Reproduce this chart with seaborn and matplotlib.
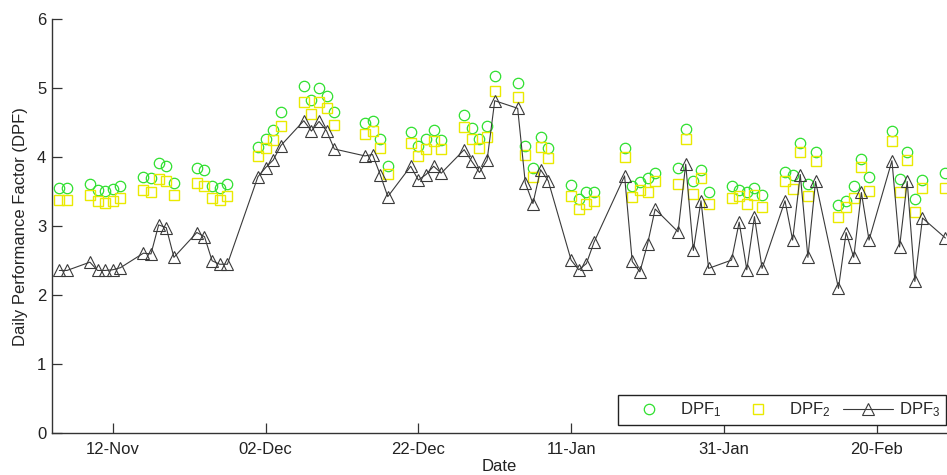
import pandas as pd
import matplotlib
matplotlib.use("Agg")
import matplotlib.pyplot as plt
import matplotlib.dates as mdates
import seaborn as sns

# trading days, Nov 2009 - Mar 2010
dates = [
    "2009-11-05", "2009-11-06", "2009-11-09", "2009-11-10", "2009-11-11", "2009-11-12",
    "2009-11-13", "2009-11-16", "2009-11-17", "2009-11-18", "2009-11-19", "2009-11-20",
    "2009-11-23", "2009-11-24", "2009-11-25", "2009-11-26", "2009-11-27",
    "2009-12-01", "2009-12-02", "2009-12-03", "2009-12-04", "2009-12-07", "2009-12-08",
    "2009-12-09", "2009-12-10", "2009-12-11", "2009-12-15", "2009-12-16", "2009-12-17",
    "2009-12-18", "2009-12-21", "2009-12-22", "2009-12-23", "2009-12-24", "2009-12-25",
    "2009-12-28", "2009-12-29", "2009-12-30", "2009-12-31",
    "2010-01-01", "2010-01-04", "2010-01-05", "2010-01-06", "2010-01-07", "2010-01-08",
    "2010-01-11", "2010-01-12", "2010-01-13", "2010-01-14", "2010-01-18", "2010-01-19",
    "2010-01-20", "2010-01-21", "2010-01-22", "2010-01-25", "2010-01-26", "2010-01-27",
    "2010-01-28", "2010-01-29",
    "2010-02-01", "2010-02-02", "2010-02-03", "2010-02-04", "2010-02-05", "2010-02-08",
    "2010-02-09", "2010-02-10", "2010-02-11", "2010-02-12", "2010-02-15", "2010-02-16",
    "2010-02-17", "2010-02-18", "2010-02-19", "2010-02-22", "2010-02-23", "2010-02-24",
    "2010-02-25", "2010-02-26",
    "2010-03-01",
]

dpf1 = [
    3.56, 3.56, 3.62, 3.53, 3.51, 3.54, 3.58, 3.72, 3.70, 3.91, 3.88, 3.63, 3.84, 3.81, 3.59, 3.55, 3.61,
    4.15, 4.27, 4.40, 4.65, 5.03, 4.83, 5.00, 4.89, 4.65, 4.49, 4.53, 4.27, 3.87, 4.37, 4.16, 4.26, 4.40,
    4.25, 4.61, 4.42, 4.27, 4.46,
    5.18, 5.07, 4.17, 3.84, 4.29, 4.13, 3.60, 3.39, 3.50, 3.49, 4.14, 3.59, 3.64, 3.70, 3.77, 3.84, 4.41,
    3.66, 3.81, 3.50,
    3.58, 3.53, 3.49, 3.56, 3.45, 3.79, 3.74, 4.21, 3.62, 4.08, 3.31, 3.36, 3.58, 3.98, 3.72, 4.38, 3.68,
    4.08, 3.40, 3.67,
    3.77,
]

dpf2 = [
    3.38, 3.38, 3.45, 3.37, 3.34, 3.37, 3.41, 3.53, 3.50, 3.69, 3.66, 3.45, 3.63, 3.58, 3.41, 3.38, 3.44,
    4.02, 4.14, 4.25, 4.46, 4.80, 4.63, 4.80, 4.71, 4.47, 4.34, 4.38, 4.14, 3.76, 4.21, 4.02, 4.12, 4.24,
    4.12, 4.44, 4.27, 4.13, 4.30,
    4.96, 4.87, 4.04, 3.71, 4.15, 3.99, 3.44, 3.25, 3.33, 3.37, 4.01, 3.42, 3.53, 3.50, 3.66, 3.62, 4.27,
    3.47, 3.70, 3.33,
    3.41, 3.44, 3.32, 3.45, 3.28, 3.66, 3.54, 4.07, 3.44, 3.95, 3.14, 3.28, 3.41, 3.86, 3.51, 4.24, 3.49,
    3.96, 3.21, 3.56,
    3.56,
]

dpf3 = [
    2.36, 2.36, 2.48, 2.36, 2.36, 2.37, 2.40, 2.61, 2.60, 3.02, 2.98, 2.55, 2.91, 2.85, 2.50, 2.45, 2.45,
    3.72, 3.85, 3.96, 4.17, 4.53, 4.38, 4.52, 4.38, 4.12, 4.02, 4.04, 3.75, 3.43, 3.87, 3.67, 3.75, 3.87,
    3.77, 4.11, 3.94, 3.78, 3.96,
    4.82, 4.71, 3.63, 3.33, 3.82, 3.66, 2.51, 2.37, 2.46, 2.77, 3.73, 2.49, 2.34, 2.74, 3.25, 2.92, 3.90,
    2.65, 3.37, 2.39,
    2.51, 3.06, 2.37, 3.14, 2.39, 3.37, 2.80, 3.75, 2.55, 3.65, 2.10, 2.91, 2.55, 3.49, 2.80, 3.95, 2.70,
    3.65, 2.20, 3.12,
    2.83,
]

tick_dates = ["2009-11-12", "2009-12-02", "2009-12-22", "2010-01-11", "2010-01-31", "2010-02-20"]

df = pd.DataFrame({"date": pd.to_datetime(dates), "dpf1": dpf1, "dpf2": dpf2, "dpf3": dpf3})

sns.set_style("white")
plt.rcParams["font.family"] = ["Liberation Sans", "DejaVu Sans"]
plt.rcParams["mathtext.fontset"] = "custom"
plt.rcParams["mathtext.rm"] = "Liberation Sans"
plt.rcParams["mathtext.it"] = "Liberation Sans"

fig = plt.figure(figsize=(9.47, 4.75), dpi=100)
ax = fig.add_axes([0.0546, 0.0878, 0.9454, 0.8716])

sns.lineplot(data=df, x="date", y="dpf1", ax=ax, errorbar=None, ls="none",
             marker="o", ms=7.5, mfc="none", mec="#2fe02f", mew=0.9, label="DPF$_1$")
sns.lineplot(data=df, x="date", y="dpf2", ax=ax, errorbar=None, ls="none",
             marker="s", ms=7, mfc="none", mec="#eaea00", mew=1.0, label="DPF$_2$")
sns.lineplot(data=df, x="date", y="dpf3", ax=ax, errorbar=None, color="#3a3a3a", lw=0.8,
             marker="^", ms=8, mfc="none", mec="#3a3a3a", mew=0.8, label="DPF$_3$")

ax.set_xlim(pd.Timestamp("2009-11-04"), pd.Timestamp("2010-03-01 05:00"))
ax.set_ylim(0, 6)
ax.set_xticks(pd.to_datetime(tick_dates))
ax.xaxis.set_major_formatter(mdates.DateFormatter("%d-%b"))
ax.set_yticks(range(0, 7))

for side in ["top", "right"]:
    ax.spines[side].set_visible(False)
for side in ["left", "bottom"]:
    ax.spines[side].set_color("#333333")
    ax.spines[side].set_linewidth(1.0)

ax.tick_params(direction="in", length=7, width=0.9, color="#333333",
               labelsize=12, labelcolor="#222222", left=True, bottom=True)
ax.tick_params(axis="x", pad=6)
ax.tick_params(axis="y", pad=4)

ax.set_xlabel("Date", fontsize=12, color="#222222", labelpad=2)
ax.set_ylabel("Daily Performance Factor (DPF)", fontsize=12, color="#222222", labelpad=6)

leg = ax.legend(loc="lower right", bbox_to_anchor=(0.999, 0.02), ncol=3, fontsize=12,
                frameon=True, fancybox=False, framealpha=1, edgecolor="#222222",
                handlelength=3.0, handletextpad=0.35, columnspacing=0.75,
                borderpad=0.35, borderaxespad=0)
leg.get_frame().set_linewidth(1.0)

fig.savefig("out.png", dpi=100)
